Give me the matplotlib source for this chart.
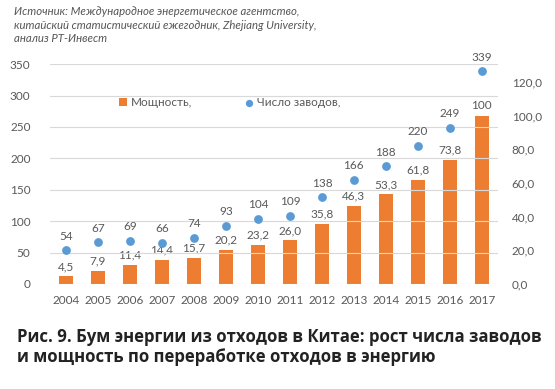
import matplotlib
matplotlib.use("Agg")
import matplotlib.pyplot as plt
import numpy as np

years = ["2004", "2005", "2006", "2007", "2008", "2009", "2010",
         "2011", "2012", "2013", "2014", "2015", "2016", "2017"]
plants = [54, 67, 69, 66, 74, 93, 104, 109, 138, 166, 188, 220, 249, 339]
capacity = [4.5, 7.9, 11.4, 14.4, 15.7, 20.2, 23.2, 26.0, 35.8, 46.3, 53.3, 61.8, 73.8, 100]
capacity_labels = ["4,5", "7,9", "11,4", "14,4", "15,7", "20,2", "23,2",
                   "26,0", "35,8", "46,3", "53,3", "61,8", "73,8", "100"]
left_ticks = [0, 50, 100, 150, 200, 250, 300, 350]
right_ticks = [0, 20, 40, 60, 80, 100, 120]

source = ("Источник: Международное энергетическое агентство,\n"
          "китайский статистический ежегодник, Zhejiang University,\n"
          "анализ РТ-Инвест")
title = ("Рис. 9. Бум энергии из отходов в Китае: рост числа заводов\n"
         "и мощность по переработке отходов в энергию")

orange = "#ED7D31"
blue = "#5B9BD5"
grey = "#595959"

fig = plt.figure(figsize=(5.55, 3.89), dpi=100)
ax = fig.add_axes([0.09, 0.27, 0.807, 0.565])
ax2 = ax.twinx()

x = np.arange(len(years))

# bars on the secondary (right) axis
bars = ax2.bar(x, capacity, width=0.43, color=orange, zorder=2)
for xi, v, s in zip(x, capacity, capacity_labels):
    ax2.annotate(s, (xi, v), xytext=(0, 3), textcoords="offset points",
                 ha="center", va="bottom", fontsize=8.5, color=grey, family="Lato")

# dots on the primary (left) axis
dots = ax.scatter(x, plants, s=28, color=blue, zorder=3)
for xi, v in zip(x, plants):
    ax.annotate(str(v), (xi, v), xytext=(0, 6), textcoords="offset points",
                ha="center", va="bottom", fontsize=8.5, color=grey, family="Lato")

ax.set_ylim(0, 350)
ax.set_yticks(left_ticks)
ax2.set_ylim(0, 130.5)
ax2.set_yticks(right_ticks)
ax2.set_yticklabels([f"{t:.1f}".replace(".", ",") for t in right_ticks])
ax.set_xlim(-0.5, len(years) - 0.5)
ax.set_xticks(x)
ax.set_xticklabels(years)

ax.grid(axis="y", color="#D9D9D9", linewidth=0.8, zorder=0)
ax.set_axisbelow(True)
ax.set_zorder(ax2.get_zorder() + 1)
ax.patch.set_visible(False)
for a in (ax, ax2):
    for sp in a.spines.values():
        sp.set_visible(False)
    a.tick_params(length=0, labelsize=8.5, colors=grey)
    for lab in a.get_xticklabels() + a.get_yticklabels():
        lab.set_family("Lato")
ax.tick_params(axis="y", pad=14)
ax.tick_params(axis="x", pad=8)
ax2.tick_params(axis="y", pad=10)

leg = ax.legend([bars, dots], ["Мощность,", "Число заводов,"],
                loc="upper left", bbox_to_anchor=(0.13, 0.9), ncol=2, frameon=False,
                fontsize=8.5, handlelength=0.7, handletextpad=0.3, columnspacing=4.5,
                markerscale=0.8)
for t in leg.get_texts():
    t.set_color(grey)
    t.set_family("Lato")

fig.text(0.025, 0.985, source, ha="left", va="top", fontsize=8.2, style="italic",
         color="#555555", family="Lato", linespacing=1.3)
fig.text(0.03, 0.158, title, ha="left", va="top", fontsize=12.1, weight="bold",
         color="#222222", family="Open Sans", linespacing=1.2)

fig.savefig("out.png", dpi=100)
